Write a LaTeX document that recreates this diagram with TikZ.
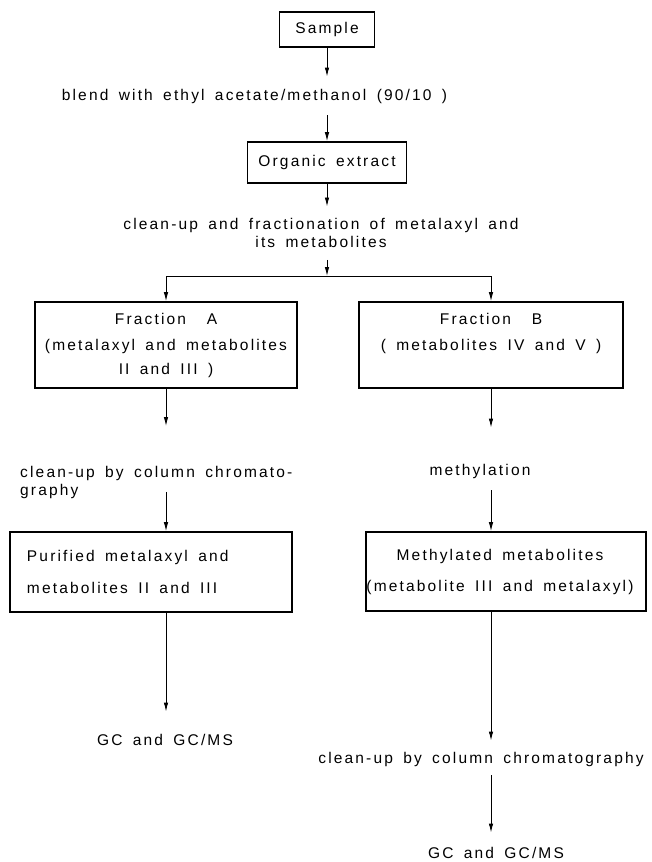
\documentclass[tikz,border=0pt]{standalone}
\usepackage{fontspec}
\setmainfont[LetterSpace=14,WordSpace=1.6]{Liberation Sans}
\usetikzlibrary{arrows.meta}
\begin{document}
\begin{tikzpicture}[x=1pt,y=-1pt,
  every node/.style={font=\fontsize{15.5}{18}\selectfont},
  boxnode/.style={draw, line width=1.7pt, inner sep=0pt, align=center},
  lbl/.style={inner sep=0pt},
  conn/.style={line width=0.9pt},
  arr/.style={conn, -{Latex[length=9pt,width=4.5pt]}}]
\useasboundingbox[fill=white] (0,0) rectangle (651,862);

\node[boxnode, minimum width=95pt, minimum height=35pt] (sample) at (327,29.5) {Sample};
\node[lbl, anchor=base] (blend) at (254.5,100) {blend with ethyl acetate/methanol (90/10 )};
\node[boxnode, minimum width=159pt, minimum height=41pt] (org) at (327,162.5) {Organic extract};
\node[lbl, anchor=north, align=center] (clean) at (321,218.5) {clean-up and fractionation of metalaxyl and\\[-0.5pt]its metabolites};
\coordinate (j) at (327,276);
\node[boxnode, minimum width=262pt, minimum height=86pt] (fa) at (166,345) {Fraction~ A\\[8pt](metalaxyl and metabolites\\[6pt]II and III )};
\node[boxnode, minimum width=264pt, minimum height=86pt] (fb) at (491,345) {Fraction~ B\\[8pt]( metabolites IV and V )\\[8pt]\mbox{}};
\node[lbl, anchor=north west, align=left] (lclean) at (20,466) {clean-up by column chromato-\\graphy};
\node[boxnode, minimum width=282pt, minimum height=80pt] (pur) at (151,572) {\makebox[248pt][l]{Purified metalaxyl and}\\[14pt]\makebox[248pt][l]{metabolites II and III}};
\node[lbl, anchor=base] (gcl) at (165,745) {GC and GC/MS};
\node[lbl, anchor=base] (meth) at (480,475) {methylation};
\node[boxnode, minimum width=280pt, minimum height=79pt] (mm) at (506,571.5) {Methylated metabolites\hspace*{12pt}\\[13pt](metabolite III and metalaxyl)\hspace*{12pt}};
\node[lbl, anchor=base] (rclean) at (481,763) {clean-up by column chromatography};
\node[lbl, anchor=base] (gcr) at (496,858) {GC and GC/MS};

\draw[arr, shorten >=12pt] (sample.south) -- (sample.south |- blend.north);
\draw[arr, shorten <=12pt] (org.north |- blend.south) -- (org.north);
\draw[arr, shorten >=12pt] (org.south) -- (org.south |- clean.north);
\draw[arr, shorten <=12pt] (clean.south -| j) -- (j);
\draw[conn] (fa.north |- j) -- (fb.north |- j);
\draw[arr] (fa.north |- j) -- (fa.north);
\draw[arr] (fb.north |- j) -- (fb.north);
\draw[arr, shorten >=40pt] (fa.south) -- (fa.south |- lclean.north);
\draw[arr, shorten <=-7pt] (fa.south |- lclean.south) -- (fa.south |- pur.north);
\draw[arr, shorten >=22pt] (fa.south |- pur.south) -- (fa.south |- gcl.north);
\draw[arr, shorten >=36pt] (fb.south) -- (fb.south |- meth.north);
\draw[arr, shorten <=12pt] (fb.south |- meth.south) -- (fb.south |- mm.north);
\draw[arr, shorten >=11pt] (fb.south |- mm.south) -- (fb.south |- rclean.north);
\draw[arr, shorten <=9pt, shorten >=14pt] (fb.south |- rclean.south) -- (fb.south |- gcr.north);
\end{tikzpicture}
\end{document}
